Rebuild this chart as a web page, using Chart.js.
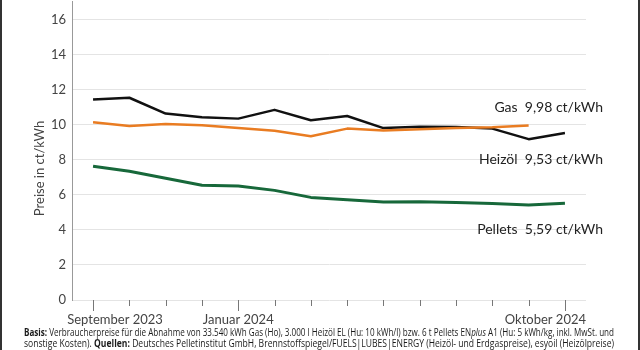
<!DOCTYPE html>
<html>
<head>
<meta charset="utf-8">
<script src="https://cdn.jsdelivr.net/npm/chart.js@4.4.1/dist/chart.umd.min.js"></script>
<style>
  html, body { margin: 0; padding: 0; background: #fff; }
  #box { position: relative; width: 640px; height: 350px; overflow: hidden;
         border-left: 2px solid #333; border-right: 2px solid #333; box-sizing: border-box; }
  #wrap { position: absolute; left: -2px; top: -12px; width: 640px; height: 342px; }
  #foot { position: absolute; left: 22px; top: 327px; width: 600px;
          font-family: "Open Sans", sans-serif;
          font-size: 10px; line-height: 11px; color: #1a1a1a; white-space: nowrap; }
  #foot div { display: inline-block; transform-origin: 0 0; }
  #foot b { font-weight: bold; }
</style>
</head>
<body>
<div id="box">
  <div id="wrap"><canvas id="chart"></canvas></div>
  <div id="foot">
    <div class="ln"><b>Basis:</b> Verbraucherpreise für die Abnahme von 33.540 kWh Gas (Ho), 3.000 l Heizöl EL (Hu: 10 kWh/l) bzw. 6 t Pellets EN<i>plus</i> A1 (Hu: 5 kWh/kg, inkl. MwSt. und</div><br>
    <div class="ln">sonstige Kosten). <b>Quellen:</b> Deutsches Pelletinstitut GmbH, Brennstoffspiegel/FUELS|LUBES|ENERGY (Heizöl- und Erdgaspreise), esyoil (Heizölpreise)</div>
  </div>
</div>
<script>
// Monate Sep 2023 - Okt 2024
const months = ['Sep 2023','Okt 2023','Nov 2023','Dez 2023','Jan 2024','Feb 2024','Mär 2024',
  'Apr 2024','Mai 2024','Jun 2024','Jul 2024','Aug 2024','Sep 2024','Okt 2024'];
const tickLabels = ['September 2023','','','','Januar 2024','','','','','','','','','Oktober 2024'];

const heizoel = [11.43, 11.53, 10.63, 10.42, 10.34, 10.84, 10.25, 10.49, 9.80, 9.88, 9.86, 9.77, 9.17, 9.52];
const gas = [10.13, 9.92, 10.03, 9.96, 9.80, 9.65, 9.33, 9.77, 9.67, 9.74, 9.80, 9.85, 9.95, null];
const pellets = [7.63, 7.34, 6.94, 6.54, 6.50, 6.25, 5.85, 5.72, 5.58, 5.60, 5.56, 5.50, 5.41, 5.52];

const endLabels = [
  { text: 'Gas  9,98 ct/kWh', y: 11 },
  { text: 'Heizöl  9,53 ct/kWh', y: 8 },
  { text: 'Pellets  5,59 ct/kWh', y: 4 }
];

const font = 'Lato, "Open Sans", sans-serif';

const toPoints = arr => arr.map((v, i) => ({ x: i, y: v }));

// Fußnote auf Breite stauchen
document.querySelectorAll('#foot .ln').forEach(el => {
  const r = 590 / el.getBoundingClientRect().width;
  el.style.transform = 'scaleX(' + r + ')';
});

// eigene Ticks, Monatsbeschriftung, Achsentitel und Endlabels
const extras = {
  id: 'extras',
  afterDraw(chart) {
    const ctx = chart.ctx;
    const xs = chart.scales.x, ys = chart.scales.y;
    const bottom = chart.chartArea.bottom;
    ctx.save();
    ctx.strokeStyle = '#777';
    ctx.lineWidth = 1;
    months.forEach((m, i) => {
      const px = Math.round(xs.getPixelForValue(i)) + 0.5;
      ctx.beginPath();
      ctx.moveTo(px, bottom);
      ctx.lineTo(px, bottom + (tickLabels[i] ? 11 : 6));
      ctx.stroke();
    });

    ctx.fillStyle = '#444';
    ctx.font = '13px ' + font;
    ctx.textBaseline = 'middle';
    tickLabels.forEach((t, i) => {
      if (!t) return;
      let px = xs.getPixelForValue(i);
      ctx.textAlign = 'center';
      if (i === 0) px += 22;
      if (i === tickLabels.length - 1) { ctx.textAlign = 'right'; px = chart.chartArea.right; }
      ctx.fillText(t, px, bottom + 20);
    });

    ctx.save();
    ctx.translate(40, ys.getPixelForValue(7.5));
    ctx.rotate(-Math.PI / 2);
    ctx.textAlign = 'center';
    ctx.fillText('Preise in ct/kWh', 0, 0);
    ctx.restore();

    ctx.fillStyle = '#222';
    ctx.font = '14px ' + font;
    ctx.textAlign = 'right';
    endLabels.forEach(l => {
      ctx.fillText(l.text, chart.chartArea.right + 17, ys.getPixelForValue(l.y));
    });
    ctx.restore();
  }
};

new Chart(document.getElementById('chart'), {
  type: 'line',
  data: {
    datasets: [
      { label: 'Gas', data: toPoints(gas), borderColor: '#e97c22', borderWidth: 2.5, order: 0 },
      { label: 'Heizöl', data: toPoints(heizoel), borderColor: '#111111', borderWidth: 2.5, order: 1 },
      { label: 'Pellets', data: toPoints(pellets), borderColor: '#17683a', borderWidth: 3, order: 2 }
    ]
  },
  options: {
    responsive: true,
    maintainAspectRatio: false,
    animation: false,
    layout: { padding: { top: 0, right: 54, bottom: 6, left: 0 } },
    elements: { point: { radius: 0 }, line: { tension: 0, borderJoinStyle: 'round' } },
    plugins: { legend: { display: false }, tooltip: { enabled: false } },
    scales: {
      x: {
        type: 'linear',
        min: -0.58, max: 13.58,
        grid: { display: false },
        border: { display: false },
        ticks: { display: false },
        afterFit(s) { s.height = 24; }
      },
      y: {
        min: 0, max: 17,
        grid: { color: '#e4e4e4', drawTicks: false, lineWidth: 1 },
        border: { color: '#999', width: 1 },
        ticks: {
          stepSize: 1,
          padding: 6,
          color: '#444',
          font: { family: font, size: 13 },
          callback: v => (v % 2 === 0 ? String(v) : '')
        },
        afterFit(s) { s.width = 72; }
      }
    }
  },
  plugins: [extras]
});
</script>
</body>
</html>
